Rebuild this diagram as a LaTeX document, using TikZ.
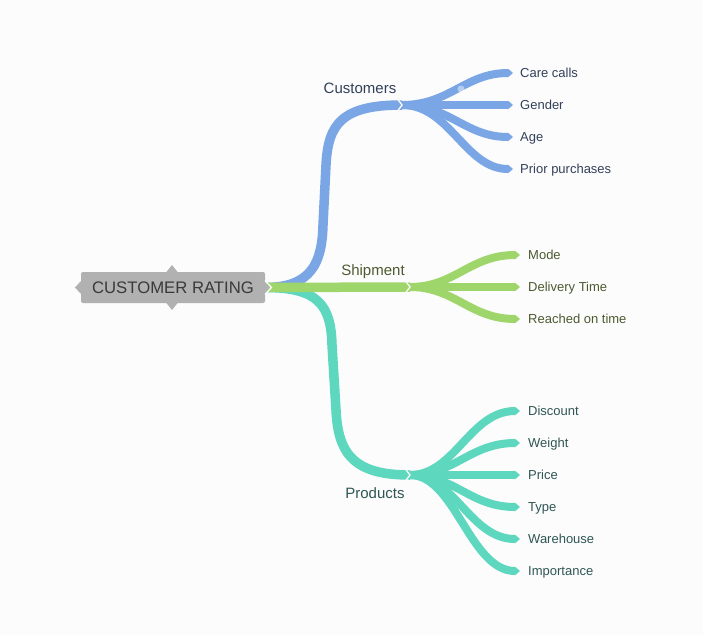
\documentclass[tikz,border=0pt]{standalone}
\usepackage{fontspec}
\setmainfont{Liberation Sans}
\usetikzlibrary{arrows.meta}
\definecolor{cblue}{HTML}{7BA6E5}
\definecolor{cgreen}{HTML}{9FD66B}
\definecolor{cteal}{HTML}{5ED7BF}
\definecolor{rootgray}{HTML}{B1B1B1}
\definecolor{bg}{HTML}{FCFCFC}
\definecolor{roottext}{HTML}{3A3A3A}
\definecolor{ctext}{HTML}{33405A}
\definecolor{stext}{HTML}{4D5A30}
\definecolor{ptext}{HTML}{2F5652}
\begin{document}
\begin{tikzpicture}[x=1pt,y=-1pt,
  mainbr/.style={line width=9.5pt},
  leafbr/.style={line width=8pt,-{Triangle[length=5pt,width=8.6pt,line width=0pt]}},
  notch/.style={draw=bg,line width=1.3pt},
  leaf/.style={anchor=west,inner sep=0pt,text height=9.4pt,text depth=0pt,font=\fontsize{13}{15}\selectfont},
  blabel/.style={inner sep=0pt,text height=10.8pt,text depth=0pt,font=\fontsize{15}{17}\selectfont}]
\fill[bg] (0,0) rectangle (703,635);
\useasboundingbox (0,0) rectangle (703,635);

% root
\node[fill=rootgray,rounded corners=2pt,minimum width=184pt,minimum height=31pt,inner sep=0pt,
      text=roottext,text height=12pt,text depth=0pt,font=\fontsize{16.7}{19}\selectfont] (root) at (173,287.5) {CUSTOMER RATING};
\fill[rootgray] (81,281) -- (75,287.5) -- (81,294) -- cycle;
\fill[rootgray] (166,272.5) -- (172,265) -- (178,272.5) -- cycle;
\fill[rootgray] (166,302.5) -- (172,310) -- (178,302.5) -- cycle;

% junctions
\coordinate (cj) at (402,105);
\coordinate (sj) at (410,287);
\coordinate (pj) at (410,475);

% leaf texts
\node[leaf,text=ctext] (c1) at (520,73) {Care calls};
\node[leaf,text=ctext] (c2) at (520,105) {Gender};
\node[leaf,text=ctext] (c3) at (520,137) {Age};
\node[leaf,text=ctext] (c4) at (520,169) {Prior purchases};
\node[leaf,text=stext] (s1) at (528,255) {Mode};
\node[leaf,text=stext] (s2) at (528,287) {Delivery Time};
\node[leaf,text=stext] (s3) at (528,319) {Reached on time};
\node[leaf,text=ptext] (p1) at (528,411) {Discount};
\node[leaf,text=ptext] (p2) at (528,443) {Weight};
\node[leaf,text=ptext] (p3) at (528,475) {Price};
\node[leaf,text=ptext] (p4) at (528,507) {Type};
\node[leaf,text=ptext] (p5) at (528,539) {Warehouse};
\node[leaf,text=ptext] (p6) at (528,571) {Importance};

% main branches
\draw[mainbr,cblue] (root.east) .. controls (312,287.5) and (322,262) .. (323,225)
   -- (326,165) .. controls (328,124) and (342,105) .. (cj);
\draw[mainbr,cteal] (root.east) .. controls (318,287.5) and (331,305) .. (332,345)
   -- (336,410) .. controls (338,455) and (355,475) .. (pj);
\draw[mainbr,cgreen] (root.east) -- (sj);
\fill[rootgray] (264,281) -- (270,287.5) -- (264,294) -- cycle;
\draw[notch] (265,280.5) -- (271.5,287.5) -- (265,294.5);

% customers fan
\foreach \n/\y in {c1/73,c2/105,c3/137,c4/169}
  \draw[leafbr,cblue] (cj) .. controls (450,105) and (465,\y) .. ([xshift=-7pt]\n.west);
\draw[notch] ([xshift=-4.5pt,yshift=6pt]cj) -- (cj) -- ([xshift=-4.5pt,yshift=-6pt]cj);
\node[circle,fill=white,fill opacity=0.45,inner sep=0pt,minimum size=7pt] (dot) at (461,89) {};

% shipment fan
\foreach \n/\y in {s1/255,s2/287,s3/319}
  \draw[leafbr,cgreen] (sj) .. controls (455,287) and (470,\y) .. ([xshift=-8pt]\n.west);
\draw[notch] ([xshift=-4.5pt,yshift=6pt]sj) -- (sj) -- ([xshift=-4.5pt,yshift=-6pt]sj);

% products fan
\foreach \n/\y in {p1/411,p2/443,p3/475,p4/507,p5/539,p6/571}
  \draw[leafbr,cteal] (pj) .. controls (455,475) and (470,\y) .. ([xshift=-8pt]\n.west);
\draw[notch] ([xshift=-4.5pt,yshift=6pt]pj) -- (pj) -- ([xshift=-4.5pt,yshift=-6pt]pj);

% branch labels
\node[blabel,text=ctext] (lc) at (360,88) {Customers};
\node[blabel,text=stext] (ls) at (373,270) {Shipment};
\node[blabel,text=ptext] (lp) at (375,493) {Products};
\end{tikzpicture}
\end{document}
